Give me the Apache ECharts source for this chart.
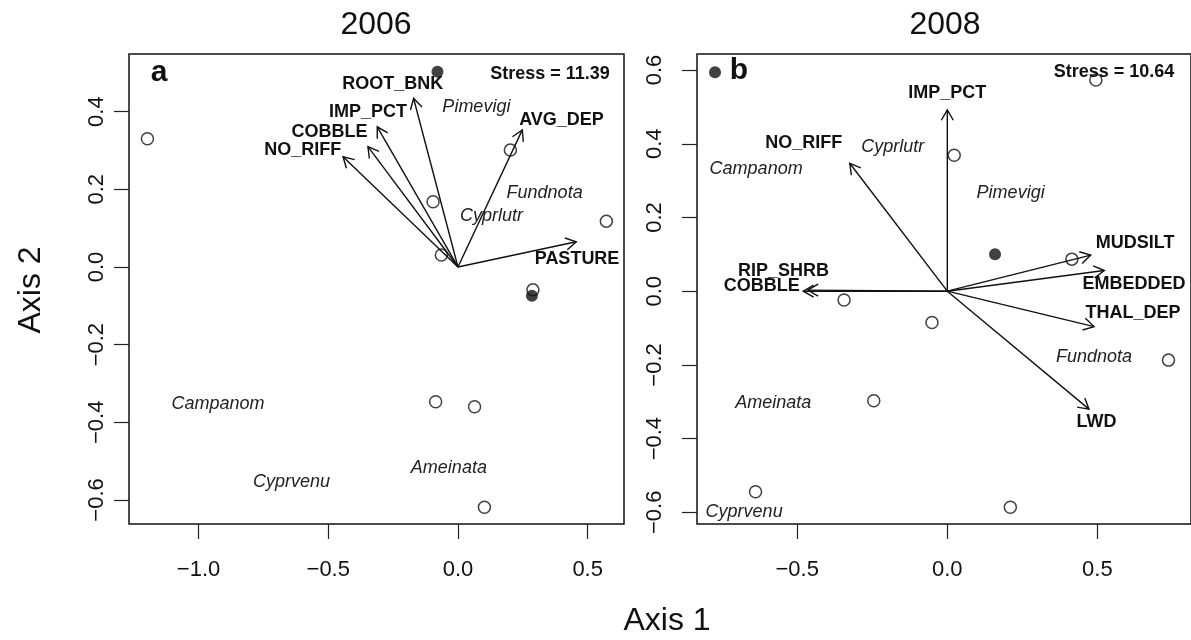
<!DOCTYPE html>
<html>
<head>
<meta charset="utf-8">
<script src="https://cdn.jsdelivr.net/npm/echarts@6/dist/echarts.min.js"></script>
<style>
  html, body { margin: 0; padding: 0; background: #fff; }
  #main { width: 1191px; height: 640px; }
</style>
</head>
<body>
<div id="main"></div>
<script>
// NMDS ordinations, 2006 (a) and 2008 (b)
const FONT = '"Liberation Sans", Arial, sans-serif'

// ---- 2006 ----
const sites06X = [-1.197, 0.202, -0.096, -0.064, 0.572, 0.289, -0.086, 0.064, 0.102]
const sites06Y = [0.330, 0.301, 0.168, 0.031, 0.118, -0.059, -0.347, -0.360, -0.619]
const filled06X = [-0.079, 0.285]
const filled06Y = [0.503, -0.074]
const species06 = ['Pimevigi', 'Fundnota', 'Cyprlutr', 'Campanom', 'Cyprvenu', 'Ameinata']
const species06X = [0.071, 0.334, 0.129, -0.925, -0.642, -0.035]
const species06Y = [0.413, 0.190, 0.131, -0.353, -0.555, -0.517]
const vectors06 = ['ROOT_BNK', 'IMP_PCT', 'COBBLE', 'NO_RIFF', 'AVG_DEP', 'PASTURE']
const vectors06X = [-0.171, -0.311, -0.347, -0.443, 0.248, 0.456]
const vectors06Y = [0.434, 0.361, 0.310, 0.284, 0.353, 0.065]
const vecLab06X = [-0.251, -0.347, -0.495, -0.598, 0.399, 0.459]
const vecLab06Y = [0.471, 0.400, 0.348, 0.300, 0.379, 0.020]
const xTicks06 = [-1.0, -0.5, 0.0, 0.5]
const yTicks06 = [-0.6, -0.4, -0.2, 0.0, 0.2, 0.4]

// ---- 2008 ----
const sites08X = [0.495, 0.023, 0.415, -0.344, -0.051, 0.737, -0.245, -0.639, 0.210]
const sites08Y = [0.573, 0.369, 0.087, -0.024, -0.085, -0.187, -0.297, -0.544, -0.586]
const filled08X = [-0.774, 0.159]
const filled08Y = [0.594, 0.100]
const species08 = ['Cyprlutr', 'Campanom', 'Pimevigi', 'Fundnota', 'Ameinata', 'Cyprvenu']
const species08X = [-0.182, -0.637, 0.211, 0.489, -0.580, -0.677]
const species08Y = [0.390, 0.331, 0.267, -0.179, -0.304, -0.599]
const vectors08 = ['IMP_PCT', 'NO_RIFF', 'RIP_SHRB', 'COBBLE', 'MUDSILT', 'EMBEDDED', 'THAL_DEP', 'LWD']
const vectors08X = [0.0, -0.325, -0.465, -0.480, 0.478, 0.523, 0.489, 0.472]
const vectors08Y = [0.492, 0.347, 0.003, 0.0, 0.098, 0.056, -0.096, -0.320]
const vecLab08X = [0.0, -0.478, -0.546, -0.618, 0.626, 0.622, 0.619, 0.497]
const vecLab08Y = [0.537, 0.401, 0.055, 0.013, 0.132, 0.020, -0.058, -0.354]
const xTicks08 = [-0.5, 0.0, 0.5]
const yTicks08 = [-0.6, -0.4, -0.2, 0.0, 0.2, 0.4, 0.6]

const pairs = (xs, ys) => xs.map((x, i) => [x, ys[i]])
const fmt = v => Number(v).toFixed(1).replace('-', '\u2212')

function xAxisFor(idx, min, max, ticks) {
  return {
    type: 'value', gridIndex: idx, min: min, max: max, position: 'bottom',
    splitLine: { show: false },
    axisLine: { show: false, onZero: false },
    axisTick: { show: true, inside: false, length: 15, customValues: ticks,
      lineStyle: { color: '#222', width: 1.2 } },
    axisLabel: { customValues: ticks, formatter: fmt, margin: 35,
      fontFamily: FONT, fontSize: 22, color: '#111' }
  }
}
function yAxisFor(idx, min, max, ticks, margin) {
  return {
    type: 'value', gridIndex: idx, min: min, max: max, position: 'left',
    splitLine: { show: false },
    axisLine: { show: false, onZero: false },
    axisTick: { show: true, inside: false, length: 15, customValues: ticks,
      lineStyle: { color: '#222', width: 1.2 } },
    axisLabel: { customValues: ticks, formatter: fmt, margin: margin, rotate: 90,
      fontFamily: FONT, fontSize: 22, color: '#111' }
  }
}

function arrowItem(params, api) {
  const o = api.coord([0, 0])
  const p = api.coord([api.value(0), api.value(1)])
  const ang = Math.atan2(p[1] - o[1], p[0] - o[0])
  const L = 12, a = Math.PI / 6
  const h1 = [p[0] - L * Math.cos(ang - a), p[1] - L * Math.sin(ang - a)]
  const h2 = [p[0] - L * Math.cos(ang + a), p[1] - L * Math.sin(ang + a)]
  return {
    type: 'group',
    children: [
      { type: 'line', shape: { x1: o[0], y1: o[1], x2: p[0], y2: p[1] },
        style: { stroke: '#111', lineWidth: 1.4 } },
      { type: 'polyline', shape: { points: [h1, p, h2] },
        style: { stroke: '#111', lineWidth: 1.4, fill: null } }
    ]
  }
}
function textSeries(idx, names, xs, ys, font, color) {
  return {
    type: 'custom', xAxisIndex: idx, yAxisIndex: idx, z: 5,
    data: pairs(xs, ys),
    renderItem: function (params, api) {
      const p = api.coord([api.value(0), api.value(1)])
      return {
        type: 'text', x: p[0], y: p[1],
        style: { text: names[params.dataIndex], font: font, fill: color,
          align: 'center', verticalAlign: 'middle' }
      }
    }
  }
}
function openSeries(idx, xs, ys) {
  return {
    type: 'scatter', xAxisIndex: idx, yAxisIndex: idx, symbol: 'circle', symbolSize: 12,
    itemStyle: { color: 'rgba(0,0,0,0)', borderColor: '#111', borderWidth: 1.5 },
    data: pairs(xs, ys), z: 3
  }
}
function filledSeries(idx, xs, ys) {
  return {
    type: 'scatter', xAxisIndex: idx, yAxisIndex: idx, symbol: 'circle', symbolSize: 12,
    itemStyle: { color: '#111' }, data: pairs(xs, ys), z: 4
  }
}
function arrowSeries(idx, xs, ys) {
  return { type: 'custom', xAxisIndex: idx, yAxisIndex: idx, z: 2,
    data: pairs(xs, ys), renderItem: arrowItem }
}

const italic = 'italic 18px ' + FONT
const bold = 'bold 18px ' + FONT

function gtext(x, y, text, font, extra) {
  return Object.assign({ type: 'text', x: x, y: y,
    style: { text: text, font: font, fill: '#111', align: 'center', verticalAlign: 'middle' } }, extra || {})
}

const chart = echarts.init(document.getElementById('main'))
chart.setOption({
  animation: false,
  backgroundColor: '#fff',
  grid: [
    { left: 129, top: 54, width: 495, height: 470, show: true, borderColor: '#111', borderWidth: 1.5 },
    { left: 697, top: 54, width: 497, height: 470, show: true, borderColor: '#111', borderWidth: 1.5 }
  ],
  xAxis: [
    xAxisFor(0, -1.268, 0.640, xTicks06),
    xAxisFor(1, -0.834, 0.812, xTicks08)
  ],
  yAxis: [
    yAxisFor(0, -0.662, 0.5485, yTicks06, 21),
    yAxisFor(1, -0.6316, 0.6435, yTicks08, 31)
  ],
  graphic: [
    gtext(376, 25, '2006', '32px ' + FONT),
    gtext(945, 25, '2008', '32px ' + FONT),
    gtext(667, 621, 'Axis 1', '32px ' + FONT),
    gtext(31, 290, 'Axis 2', '32px ' + FONT, { rotation: Math.PI / 2 }),
    gtext(159, 73, 'a', 'bold 30px ' + FONT),
    gtext(739, 71, 'b', 'bold 30px ' + FONT),
    gtext(550, 74, 'Stress = 11.39', 'bold 18px ' + FONT),
    gtext(1114, 72, 'Stress = 10.64', 'bold 18px ' + FONT)
  ],
  series: [
    arrowSeries(0, vectors06X, vectors06Y),
    openSeries(0, sites06X, sites06Y),
    filledSeries(0, filled06X, filled06Y),
    textSeries(0, species06, species06X, species06Y, italic, '#222'),
    textSeries(0, vectors06, vecLab06X, vecLab06Y, bold, '#111'),
    arrowSeries(1, vectors08X, vectors08Y),
    openSeries(1, sites08X, sites08Y),
    filledSeries(1, filled08X, filled08Y),
    textSeries(1, species08, species08X, species08Y, italic, '#222'),
    textSeries(1, vectors08, vecLab08X, vecLab08Y, bold, '#111')
  ]
})
</script>
</body>
</html>
